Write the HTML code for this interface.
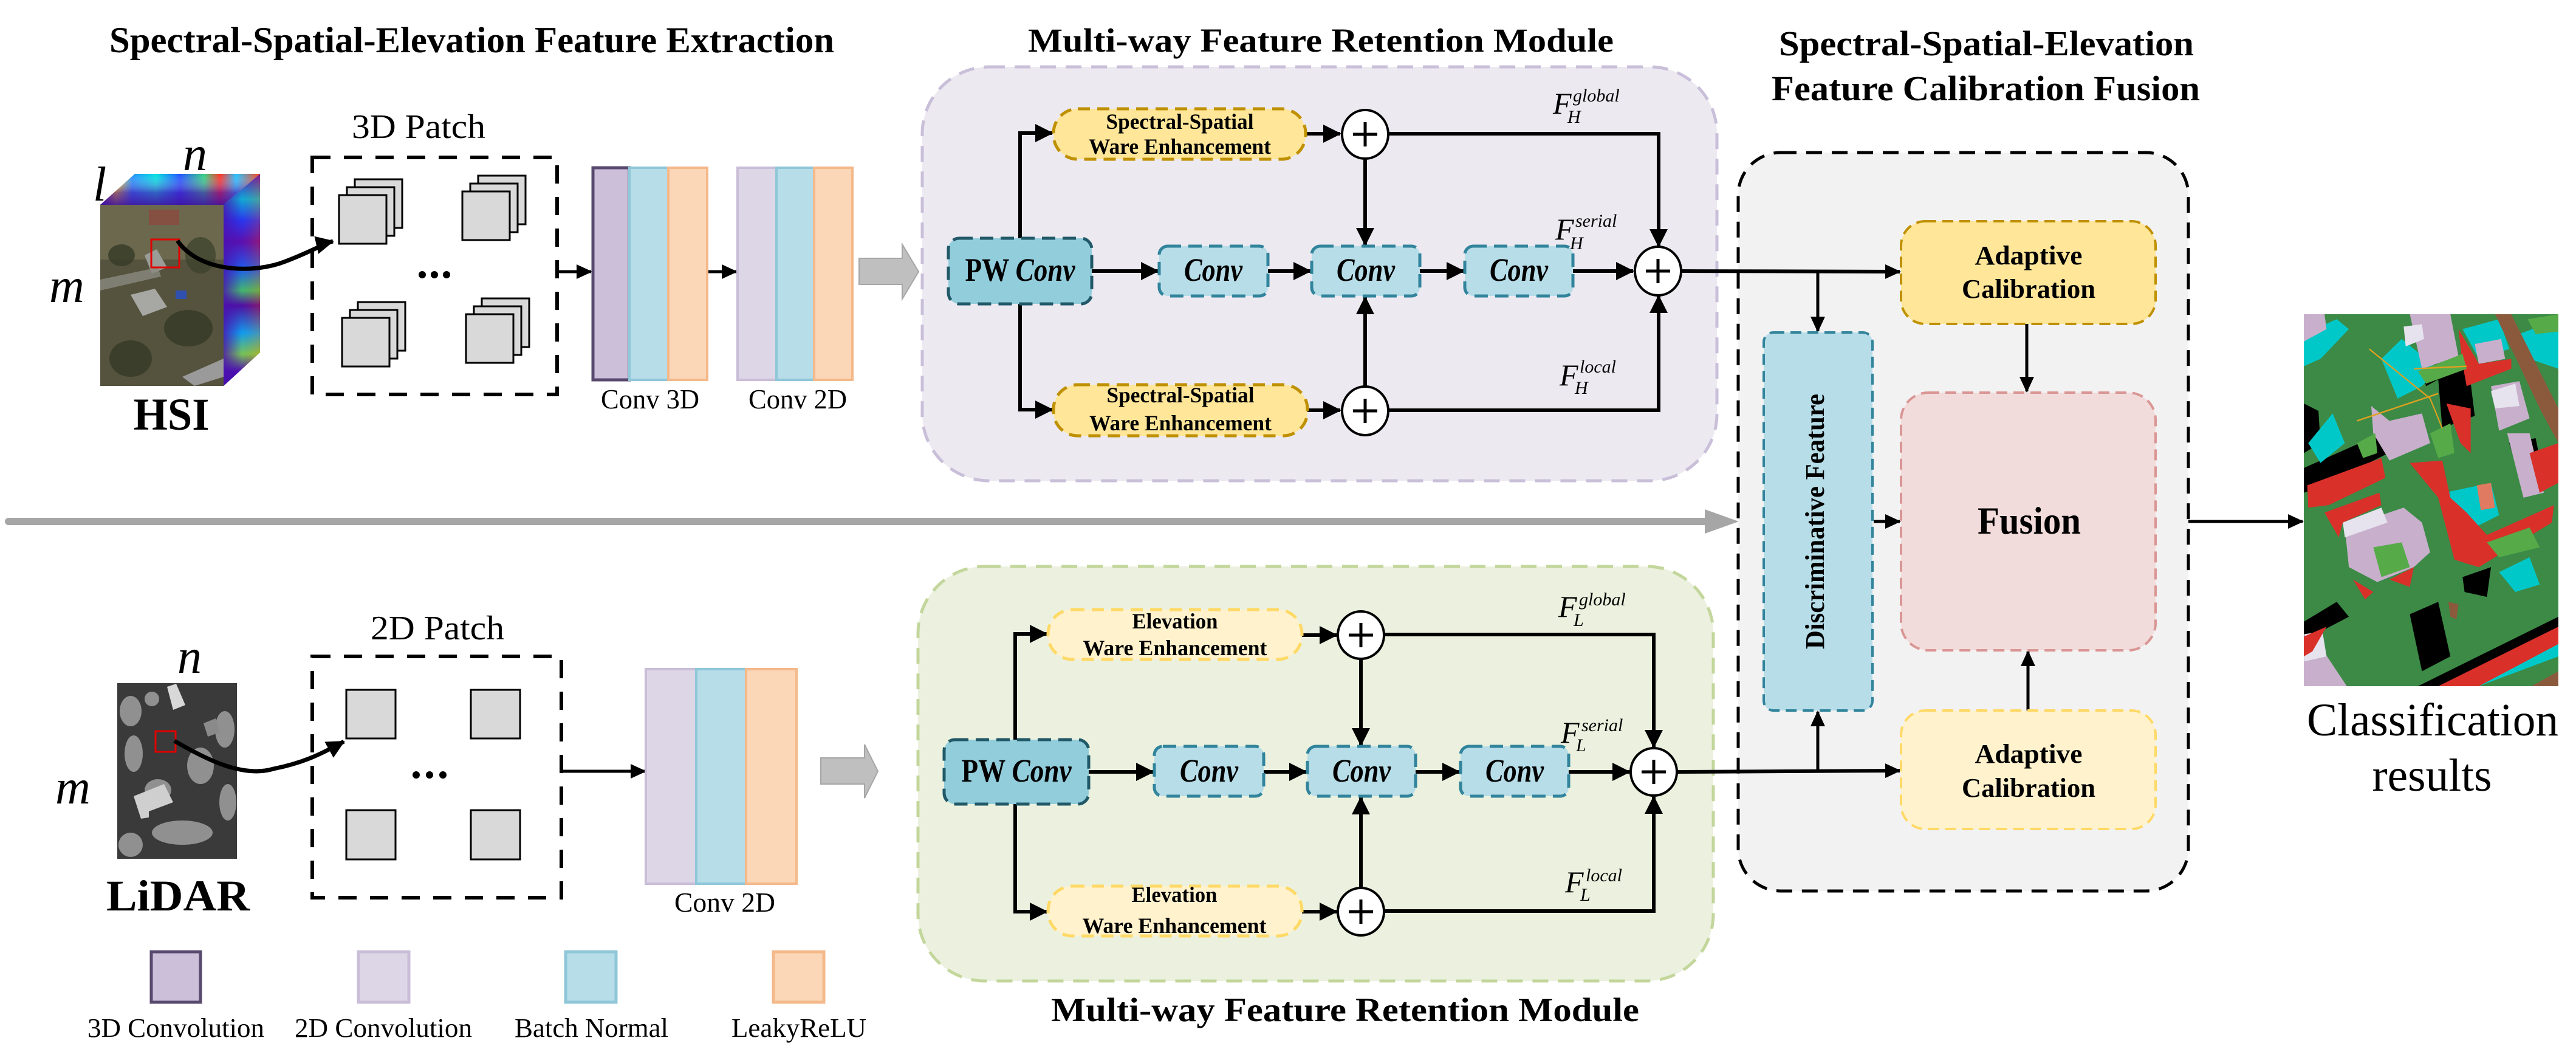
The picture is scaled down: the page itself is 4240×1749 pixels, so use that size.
<!DOCTYPE html>
<html><head><meta charset="utf-8"><style>
html,body{margin:0;padding:0;background:#fff;}
svg{display:block;}
text{font-family:"Liberation Serif",serif;}
</style></head><body>
<svg width="4240" height="1749" viewBox="0 0 4240 1749" xmlns="http://www.w3.org/2000/svg">
<defs>
<marker id="ah" markerUnits="userSpaceOnUse" markerWidth="30" markerHeight="30" refX="28" refY="15" orient="auto"><path d="M0,0 L30,15 L0,30 z" fill="#000"/></marker>
<marker id="as" markerUnits="userSpaceOnUse" markerWidth="26" markerHeight="24" refX="24" refY="12" orient="auto"><path d="M0,0 L26,12 L0,24 z" fill="#000"/></marker>
<linearGradient id="spT" x1="0" y1="0" x2="1" y2="0">
<stop offset="0" stop-color="#3a1fa0"/><stop offset="0.1" stop-color="#ffd800"/><stop offset="0.2" stop-color="#1e90ff"/><stop offset="0.35" stop-color="#00e0e0"/><stop offset="0.5" stop-color="#2050ff"/><stop offset="0.65" stop-color="#30d080"/><stop offset="0.75" stop-color="#ff3020"/><stop offset="0.85" stop-color="#20c0ff"/><stop offset="1" stop-color="#ff4010"/></linearGradient>
<linearGradient id="spTv" x1="0" y1="0" x2="0" y2="1">
<stop offset="0" stop-color="#fff" stop-opacity="0"/><stop offset="0.6" stop-color="#5010b0" stop-opacity="0.6"/><stop offset="1" stop-color="#4010a0" stop-opacity="0.9"/></linearGradient>
<linearGradient id="spR" x1="0" y1="0" x2="0" y2="1">
<stop offset="0" stop-color="#5a10c0"/><stop offset="0.12" stop-color="#00d0e0"/><stop offset="0.22" stop-color="#2040ff"/><stop offset="0.32" stop-color="#6010b0"/><stop offset="0.45" stop-color="#1070ff"/><stop offset="0.55" stop-color="#40e060"/><stop offset="0.62" stop-color="#5010a0"/><stop offset="0.75" stop-color="#00c0ff"/><stop offset="0.85" stop-color="#80f040"/><stop offset="0.93" stop-color="#5010b0"/><stop offset="1" stop-color="#3010a0"/></linearGradient>
<linearGradient id="spRh" x1="0" y1="0" x2="1" y2="0">
<stop offset="0" stop-color="#4a10b0" stop-opacity="0.85"/><stop offset="0.5" stop-color="#4a10b0" stop-opacity="0.2"/><stop offset="1" stop-color="#ff3000" stop-opacity="0.3"/></linearGradient>
</defs>

<!-- ===== Titles ===== -->
<text x="180" y="86" font-size="60" font-weight="bold" textLength="1193" lengthAdjust="spacingAndGlyphs">Spectral-Spatial-Elevation Feature Extraction</text>
<text x="1692" y="85" font-size="55" font-weight="bold" textLength="964" lengthAdjust="spacingAndGlyphs">Multi-way Feature Retention Module</text>
<text x="1730" y="1680" font-size="55" font-weight="bold" textLength="968" lengthAdjust="spacingAndGlyphs">Multi-way Feature Retention Module</text>
<text x="2928" y="91" font-size="58" font-weight="bold" textLength="683" lengthAdjust="spacingAndGlyphs">Spectral-Spatial-Elevation</text>
<text x="2916" y="165" font-size="58" font-weight="bold" textLength="705" lengthAdjust="spacingAndGlyphs">Feature Calibration Fusion</text>

<!-- ===== HSI cube ===== -->
<polygon points="165,337 222,286 428,286 368,337" fill="url(#spT)"/>
<polygon points="165,337 222,286 428,286 368,337" fill="url(#spTv)"/>
<polygon points="368,337 428,286 428,580 368,635" fill="url(#spR)"/>
<polygon points="368,337 428,286 428,580 368,635" fill="url(#spRh)"/>
<rect x="165" y="337" width="203" height="298" fill="#55533d"/>
<rect x="165" y="337" width="203" height="90" fill="#7a7658" opacity="0.6"/>
<ellipse cx="200" cy="420" rx="22" ry="18" fill="#363b28" opacity="0.8"/>
<ellipse cx="310" cy="540" rx="40" ry="30" fill="#343a26" opacity="0.8"/>
<ellipse cx="215" cy="590" rx="35" ry="30" fill="#343a26" opacity="0.8"/>
<ellipse cx="330" cy="420" rx="25" ry="30" fill="#3a4029" opacity="0.7"/>
<polygon points="215,485 255,475 275,505 235,520" fill="#a7a8a4"/>
<polygon points="238,420 258,410 275,440 250,450" fill="#9a9c98"/>
<rect x="245" y="345" width="50" height="25" fill="#8c4a40" opacity="0.8"/>
<polygon points="165,460 260,440 265,455 165,478" fill="#8a8a80" opacity="0.8"/>
<polygon points="300,620 368,590 368,620 320,635" fill="#9a9a9a"/>
<rect x="289" y="478" width="18" height="14" fill="#3050b0"/>
<rect x="249" y="394" width="46" height="46" fill="none" stroke="#e00000" stroke-width="3"/>
<path d="M292,396 C330,450 420,450 470,430 C510,415 535,400 548,397" fill="none" stroke="#000" stroke-width="7" marker-end="url(#ah)"/>
<text x="153" y="330" font-size="80" font-style="italic">l</text>
<text x="301" y="280" font-size="80" font-style="italic">n</text>
<text x="81" y="497" font-size="80" font-style="italic">m</text>
<text x="282" y="707" font-size="75" font-weight="bold" text-anchor="middle" textLength="125" lengthAdjust="spacingAndGlyphs">HSI</text>
<text x="579" y="227" font-size="56" textLength="220" lengthAdjust="spacingAndGlyphs">3D Patch</text>

<!-- 3D patch box -->
<rect x="514" y="259" width="403" height="390" fill="none" stroke="#000" stroke-width="6" stroke-dasharray="30,22"/>
<g fill="#d9d9d9" stroke="#000" stroke-width="3">
<rect x="584" y="295" width="78" height="80"/><rect x="571" y="308" width="78" height="80"/><rect x="558" y="321" width="78" height="80"/>
<rect x="787" y="289" width="78" height="80"/><rect x="774" y="302" width="78" height="80"/><rect x="761" y="315" width="78" height="80"/>
<rect x="589" y="497" width="78" height="80"/><rect x="576" y="510" width="78" height="80"/><rect x="563" y="523" width="78" height="80"/>
<rect x="793" y="491" width="78" height="80"/><rect x="780" y="504" width="78" height="80"/><rect x="767" y="517" width="78" height="80"/>
</g>
<circle cx="695" cy="452" r="6"/><circle cx="715" cy="452" r="6"/><circle cx="735" cy="452" r="6"/>
<line x1="917" y1="447" x2="973" y2="447" stroke="#000" stroke-width="5" marker-end="url(#as)"/>

<!-- Conv 3D -->
<rect x="976" y="276" width="60" height="349" fill="#cbbfd9" stroke="#584a6e" stroke-width="5"/>
<rect x="1036" y="276" width="64" height="349" fill="#b6dde8" stroke="#8fc7d8" stroke-width="4"/>
<rect x="1100" y="276" width="64" height="349" fill="#fbd6b7" stroke="#f4b98a" stroke-width="4"/>
<text x="989" y="672" font-size="46" textLength="162" lengthAdjust="spacingAndGlyphs">Conv 3D</text>
<line x1="1166" y1="447" x2="1212" y2="447" stroke="#000" stroke-width="5" marker-end="url(#as)"/>
<!-- Conv 2D top -->
<rect x="1214" y="276" width="64" height="349" fill="#ddd6e6" stroke="#c9bdd8" stroke-width="4"/>
<rect x="1278" y="276" width="62" height="349" fill="#b6dde8" stroke="#8fc7d8" stroke-width="4"/>
<rect x="1340" y="276" width="63" height="349" fill="#fbd6b7" stroke="#f4b98a" stroke-width="4"/>
<text x="1232" y="672" font-size="46" textLength="162" lengthAdjust="spacingAndGlyphs">Conv 2D</text>
<polygon points="1414,425 1485,425 1485,402 1512,447 1485,492 1485,468 1414,468" fill="#bfbfbf" stroke="#a6a6a6" stroke-width="2"/>

<!-- gray long arrow -->
<line x1="14" y1="858" x2="2812" y2="858" stroke="#a6a6a6" stroke-width="12" stroke-linecap="round"/>
<polygon points="2806,838 2862,858 2806,878" fill="#a6a6a6"/>

<!-- ===== LiDAR ===== -->
<rect x="193" y="1124" width="197" height="289" fill="#3a3a3a"/>
<g fill="#9a9a9a" opacity="0.9">
<ellipse cx="215" cy="1170" rx="18" ry="25"/><ellipse cx="220" cy="1240" rx="15" ry="30"/><ellipse cx="260" cy="1300" rx="22" ry="18"/>
<ellipse cx="330" cy="1260" rx="22" ry="30"/><ellipse cx="370" cy="1200" rx="16" ry="30"/><ellipse cx="300" cy="1370" rx="50" ry="20"/>
<ellipse cx="375" cy="1320" rx="14" ry="30"/><ellipse cx="215" cy="1390" rx="20" ry="20"/><ellipse cx="250" cy="1150" rx="12" ry="12"/>
</g>
<polygon points="275,1130 290,1125 305,1160 285,1168" fill="#d8d8d8"/>
<polygon points="220,1310 270,1290 285,1320 245,1335 245,1345 232,1347" fill="#cfcfcf"/>
<polygon points="335,1190 355,1182 362,1205 342,1212" fill="#8a8a8a"/>
<rect x="256" y="1203" width="33" height="34" fill="none" stroke="#e00000" stroke-width="3"/>
<path d="M287,1219 C340,1250 400,1280 450,1265 C500,1255 530,1240 566,1220" fill="none" stroke="#000" stroke-width="7" marker-end="url(#ah)"/>
<text x="292" y="1107" font-size="80" font-style="italic">n</text>
<text x="91" y="1322" font-size="80" font-style="italic">m</text>
<text x="175" y="1498" font-size="72" font-weight="bold" textLength="236" lengthAdjust="spacingAndGlyphs">LiDAR</text>
<text x="610" y="1052" font-size="56" textLength="220" lengthAdjust="spacingAndGlyphs">2D Patch</text>
<rect x="514" y="1080" width="410" height="397" fill="none" stroke="#000" stroke-width="6" stroke-dasharray="30,22"/>
<g fill="#d9d9d9" stroke="#000" stroke-width="3">
<rect x="570" y="1135" width="81" height="80"/><rect x="775" y="1135" width="81" height="80"/>
<rect x="570" y="1333" width="81" height="81"/><rect x="775" y="1333" width="81" height="81"/>
</g>
<circle cx="685" cy="1275" r="6"/><circle cx="707" cy="1275" r="6"/><circle cx="729" cy="1275" r="6"/>
<line x1="924" y1="1269" x2="1062" y2="1269" stroke="#000" stroke-width="5" marker-end="url(#as)"/>
<rect x="1063" y="1101" width="83" height="353" fill="#ddd6e6" stroke="#c9bdd8" stroke-width="4"/>
<rect x="1146" y="1101" width="82" height="353" fill="#b6dde8" stroke="#8fc7d8" stroke-width="4"/>
<rect x="1228" y="1101" width="83" height="353" fill="#fbd6b7" stroke="#f4b98a" stroke-width="4"/>
<text x="1110" y="1500" font-size="46" textLength="166" lengthAdjust="spacingAndGlyphs">Conv 2D</text>
<polygon points="1351,1247 1423,1247 1423,1225 1445,1269 1423,1313 1423,1290 1351,1290" fill="#bfbfbf" stroke="#a6a6a6" stroke-width="2"/>

<!-- legend -->
<rect x="249" y="1566" width="81" height="83" fill="#cbbfd9" stroke="#584a6e" stroke-width="5"/>
<rect x="590" y="1566" width="83" height="83" fill="#ddd6e6" stroke="#c9bdd8" stroke-width="5"/>
<rect x="931" y="1566" width="83" height="83" fill="#b6dde8" stroke="#8fc7d8" stroke-width="5"/>
<rect x="1273" y="1566" width="83" height="83" fill="#fbd6b7" stroke="#f4b98a" stroke-width="5"/>
<text x="144" y="1706" font-size="44" textLength="291" lengthAdjust="spacingAndGlyphs">3D Convolution</text>
<text x="485" y="1706" font-size="44" textLength="292" lengthAdjust="spacingAndGlyphs">2D Convolution</text>
<text x="847" y="1706" font-size="44" textLength="253" lengthAdjust="spacingAndGlyphs">Batch Normal</text>
<text x="1204" y="1706" font-size="44" textLength="222" lengthAdjust="spacingAndGlyphs">LeakyReLU</text>

<!-- ===== Top module (H) ===== -->
<rect x="1518" y="110" width="1308" height="681" rx="110" fill="#ece9f1" stroke="#c9bfd9" stroke-width="5" stroke-dasharray="26,16"/>
<g stroke="#000" stroke-width="6" fill="none">
<path d="M1679,392 V219 H1732" marker-end="url(#ah)"/>
<path d="M1679,500 V674 H1732" marker-end="url(#ah)"/>
<line x1="1797" y1="446" x2="1906" y2="446" marker-end="url(#ah)"/>
<line x1="2087" y1="446" x2="2157" y2="446" marker-end="url(#ah)"/>
<line x1="2337" y1="446" x2="2409" y2="446" marker-end="url(#ah)"/>
<line x1="2589" y1="446" x2="2688" y2="446" marker-end="url(#ah)"/>
<line x1="2149" y1="220" x2="2206" y2="220" marker-end="url(#ah)"/>
<line x1="2152" y1="675" x2="2206" y2="675" marker-end="url(#ah)"/>
<path d="M2286,220 H2730 V405" marker-end="url(#ah)"/>
<path d="M2286,675 H2730 V487" marker-end="url(#ah)"/>
<line x1="2247" y1="260" x2="2247" y2="403" marker-end="url(#ah)"/>
<line x1="2247" y1="637" x2="2247" y2="489" marker-end="url(#ah)"/>
</g>
<rect x="1561" y="392" width="236" height="108" rx="18" fill="#92cddc" stroke="#215968" stroke-width="5" stroke-dasharray="22,12"/>
<text x="1679" y="462" font-size="54" font-weight="bold" text-anchor="middle" textLength="181" lengthAdjust="spacingAndGlyphs">PW <tspan font-style="italic">Conv</tspan></text>
<g fill="#b6dde8" stroke="#31849b" stroke-width="5" stroke-dasharray="22,12">
<rect x="1908" y="405" width="179" height="82" rx="14"/><rect x="2159" y="405" width="178" height="82" rx="14"/><rect x="2411" y="405" width="178" height="82" rx="14"/>
</g>
<g font-size="54" font-weight="bold" font-style="italic" text-anchor="middle">
<text x="1997" y="462" textLength="96" lengthAdjust="spacingAndGlyphs">Conv</text>
<text x="2248" y="462" textLength="96" lengthAdjust="spacingAndGlyphs">Conv</text>
<text x="2500" y="462" textLength="96" lengthAdjust="spacingAndGlyphs">Conv</text>
</g>
<rect x="1734" y="179" width="415" height="83" rx="40" fill="#ffe699" stroke="#bf9000" stroke-width="5" stroke-dasharray="20,12"/>
<rect x="1734" y="633" width="418" height="84" rx="40" fill="#ffe699" stroke="#bf9000" stroke-width="5" stroke-dasharray="20,12"/>
<g font-size="36" font-weight="bold" text-anchor="middle">
<text x="1942" y="212" textLength="243" lengthAdjust="spacingAndGlyphs">Spectral-Spatial</text>
<text x="1942" y="253" textLength="300" lengthAdjust="spacingAndGlyphs">Ware Enhancement</text>
<text x="1943" y="662" textLength="243" lengthAdjust="spacingAndGlyphs">Spectral-Spatial</text>
<text x="1943" y="708" textLength="300" lengthAdjust="spacingAndGlyphs">Ware Enhancement</text>
</g>
<g fill="#fff" stroke="#000" stroke-width="4">
<ellipse cx="2247" cy="221" rx="38" ry="40"/><ellipse cx="2247" cy="676" rx="38" ry="40"/><ellipse cx="2729" cy="446" rx="38" ry="40"/>
</g>
<g stroke="#000" stroke-width="5">
<path d="M2227,221 H2267 M2247,201 V241"/><path d="M2227,676 H2267 M2247,656 V696"/><path d="M2709,446 H2749 M2729,426 V466"/>
</g>
<g font-style="italic">
<text x="2556" y="187" font-size="50">F</text><text x="2589" y="167" font-size="30">global</text><text x="2580" y="202" font-size="30">H</text>
<text x="2560" y="394" font-size="50">F</text><text x="2593" y="373" font-size="30">serial</text><text x="2584" y="410" font-size="30">H</text>
<text x="2567" y="634" font-size="50">F</text><text x="2600" y="613" font-size="30">local</text><text x="2592" y="648" font-size="30">H</text>
</g>

<!-- ===== Bottom module (L) ===== -->
<rect x="1511" y="932" width="1309" height="682" rx="110" fill="#ebf1de" stroke="#c3d69b" stroke-width="5" stroke-dasharray="26,16"/>
<g stroke="#000" stroke-width="6" fill="none">
<path d="M1671,1217 V1043 H1723" marker-end="url(#ah)"/>
<path d="M1671,1323 V1500 H1723" marker-end="url(#ah)"/>
<line x1="1792" y1="1270" x2="1898" y2="1270" marker-end="url(#ah)"/>
<line x1="2080" y1="1270" x2="2150" y2="1270" marker-end="url(#ah)"/>
<line x1="2330" y1="1270" x2="2402" y2="1270" marker-end="url(#ah)"/>
<line x1="2582" y1="1270" x2="2682" y2="1270" marker-end="url(#ah)"/>
<line x1="2143" y1="1045" x2="2200" y2="1045" marker-end="url(#ah)"/>
<line x1="2143" y1="1500" x2="2200" y2="1500" marker-end="url(#ah)"/>
<path d="M2278,1044 H2722 V1229" marker-end="url(#ah)"/>
<path d="M2278,1499 H2722 V1311" marker-end="url(#ah)"/>
<line x1="2240" y1="1084" x2="2240" y2="1226" marker-end="url(#ah)"/>
<line x1="2240" y1="1461" x2="2240" y2="1312" marker-end="url(#ah)"/>
</g>
<rect x="1554" y="1217" width="238" height="106" rx="18" fill="#92cddc" stroke="#215968" stroke-width="5" stroke-dasharray="22,12"/>
<text x="1673" y="1286" font-size="54" font-weight="bold" text-anchor="middle" textLength="181" lengthAdjust="spacingAndGlyphs">PW <tspan font-style="italic">Conv</tspan></text>
<g fill="#b6dde8" stroke="#31849b" stroke-width="5" stroke-dasharray="22,12">
<rect x="1900" y="1228" width="180" height="82" rx="14"/><rect x="2152" y="1228" width="178" height="82" rx="14"/><rect x="2404" y="1228" width="178" height="82" rx="14"/>
</g>
<g font-size="54" font-weight="bold" font-style="italic" text-anchor="middle">
<text x="1990" y="1286" textLength="96" lengthAdjust="spacingAndGlyphs">Conv</text>
<text x="2241" y="1286" textLength="96" lengthAdjust="spacingAndGlyphs">Conv</text>
<text x="2493" y="1286" textLength="96" lengthAdjust="spacingAndGlyphs">Conv</text>
</g>
<rect x="1725" y="1003" width="418" height="82" rx="40" fill="#fff2cc" stroke="#ffd966" stroke-width="5" stroke-dasharray="20,12"/>
<rect x="1725" y="1458" width="418" height="82" rx="40" fill="#fff2cc" stroke="#ffd966" stroke-width="5" stroke-dasharray="20,12"/>
<g font-size="36" font-weight="bold" text-anchor="middle">
<text x="1934" y="1034" textLength="141" lengthAdjust="spacingAndGlyphs">Elevation</text>
<text x="1934" y="1078" textLength="303" lengthAdjust="spacingAndGlyphs">Ware Enhancement</text>
<text x="1933" y="1484" textLength="141" lengthAdjust="spacingAndGlyphs">Elevation</text>
<text x="1933" y="1535" textLength="303" lengthAdjust="spacingAndGlyphs">Ware Enhancement</text>
</g>
<g fill="#fff" stroke="#000" stroke-width="4">
<ellipse cx="2240" cy="1045" rx="38" ry="39"/><ellipse cx="2240" cy="1500" rx="38" ry="39"/><ellipse cx="2722" cy="1270" rx="38" ry="39"/>
</g>
<g stroke="#000" stroke-width="5">
<path d="M2220,1045 H2260 M2240,1025 V1065"/><path d="M2220,1500 H2260 M2240,1480 V1520"/><path d="M2702,1270 H2742 M2722,1250 V1290"/>
</g>
<g font-style="italic">
<text x="2565" y="1015" font-size="50">F</text><text x="2599" y="996" font-size="30">global</text><text x="2590" y="1030" font-size="30">L</text>
<text x="2569" y="1222" font-size="50">F</text><text x="2603" y="1203" font-size="30">serial</text><text x="2594" y="1236" font-size="30">L</text>
<text x="2576" y="1468" font-size="50">F</text><text x="2610" y="1450" font-size="30">local</text><text x="2601" y="1482" font-size="30">L</text>
</g>

<!-- ===== Fusion panel ===== -->
<rect x="2861" y="251" width="741" height="1215" rx="70" fill="#f2f2f2" stroke="#000" stroke-width="5" stroke-dasharray="26,16"/>
<g stroke="#000" stroke-width="6" fill="none">
<line x1="2768" y1="446" x2="3127" y2="447" marker-end="url(#as)"/>
<line x1="2761" y1="1270" x2="3127" y2="1268" marker-end="url(#as)"/>
</g>
<g stroke="#000" stroke-width="5" fill="none">
<line x1="2992" y1="447" x2="2992" y2="545" marker-end="url(#as)"/>
<line x1="2992" y1="1268" x2="2992" y2="1171" marker-end="url(#as)"/>
<line x1="3084" y1="858" x2="3127" y2="858" marker-end="url(#as)"/>
<line x1="3336" y1="533" x2="3336" y2="644" marker-end="url(#as)"/>
<line x1="3338" y1="1169" x2="3338" y2="1072" marker-end="url(#as)"/>
<line x1="3602" y1="858" x2="3790" y2="858" marker-end="url(#as)"/>
</g>
<rect x="2903" y="547" width="179" height="622" rx="16" fill="#b6dde8" stroke="#31849b" stroke-width="4" stroke-dasharray="18,10"/>
<text x="0" y="0" font-size="44" font-weight="bold" text-anchor="middle" transform="translate(3002,858) rotate(-90)" textLength="420" lengthAdjust="spacingAndGlyphs">Discriminative Feature</text>
<rect x="3129" y="364" width="419" height="169" rx="40" fill="#ffe699" stroke="#bf9000" stroke-width="4" stroke-dasharray="18,10"/>
<text x="3339" y="435" font-size="44" font-weight="bold" text-anchor="middle" textLength="177" lengthAdjust="spacingAndGlyphs">Adaptive</text>
<text x="3339" y="490" font-size="44" font-weight="bold" text-anchor="middle" textLength="220" lengthAdjust="spacingAndGlyphs">Calibration</text>
<rect x="3129" y="646" width="419" height="424" rx="45" fill="#f2dcdb" stroke="#d99694" stroke-width="4" stroke-dasharray="18,10"/>
<text x="3340" y="878" font-size="64" font-weight="bold" text-anchor="middle" textLength="170" lengthAdjust="spacingAndGlyphs">Fusion</text>
<rect x="3129" y="1169" width="419" height="195" rx="40" fill="#fff2cc" stroke="#ffd966" stroke-width="4" stroke-dasharray="18,10"/>
<text x="3339" y="1255" font-size="44" font-weight="bold" text-anchor="middle" textLength="177" lengthAdjust="spacingAndGlyphs">Adaptive</text>
<text x="3339" y="1311" font-size="44" font-weight="bold" text-anchor="middle" textLength="220" lengthAdjust="spacingAndGlyphs">Calibration</text>

<!-- ===== Classification map ===== -->
<svg x="3792" y="517" width="419" height="612" viewBox="38 40 1254 1500" preserveAspectRatio="none">
<rect x="38" y="40" width="1254" height="1500" fill="#3c8a46"/>
<g fill="#000">
<polygon points="38,660 560,470 600,540 140,730 38,760"/>
<polygon points="38,1280 200,1200 260,1260 120,1320 38,1340"/>
<polygon points="560,1250 700,1200 760,1420 620,1480"/>
<polygon points="600,1540 1292,1260 1292,1320 760,1540"/>
<polygon points="560,40 720,40 820,250 640,330"/>
<polygon points="700,300 850,250 880,450 720,500"/>
<polygon points="1050,560 1180,540 1200,620 1080,640"/>
<polygon points="38,400 110,430 120,560 38,600"/>
<polygon points="320,980 420,960 400,1080 330,1060"/>
<polygon points="820,1100 960,1060 940,1180 830,1160"/>
</g>
<g fill="#00c8c8">
<polygon points="38,120 200,60 260,100 120,220 38,250"/>
<polygon points="420,220 520,140 700,260 620,330 500,380"/>
<polygon points="820,100 1000,60 1050,180 900,220"/>
<polygon points="60,560 180,440 240,560 120,640"/>
<polygon points="730,760 960,720 1000,850 880,900 780,820"/>
<polygon points="1000,1080 1150,1020 1200,1130 1080,1160"/>
<polygon points="700,1540 1292,1330 1292,1420 900,1540"/>
<polygon points="1100,120 1292,60 1292,260 1150,220"/>
</g>
<g fill="#c8afcc">
<polygon points="560,40 760,40 800,210 620,260"/>
<polygon points="370,410 460,470 620,440 660,560 460,630 380,520"/>
<polygon points="240,900 530,820 620,880 660,1000 580,1060 400,1120 260,1060"/>
<polygon points="960,330 1100,310 1150,460 1000,510"/>
<polygon points="1040,520 1150,520 1220,760 1120,780"/>
<polygon points="38,1420 120,1380 250,1540 38,1540"/>
<polygon points="38,40 140,40 150,100 38,150"/>
<polygon points="880,160 1010,140 1030,220 900,240"/>
</g>
<g fill="#e6e3ef">
<polygon points="530,90 620,80 630,140 540,170"/>
<polygon points="230,880 420,820 450,880 240,940"/>
<polygon points="960,350 1080,320 1100,410 980,420"/>
<polygon points="40,1330 130,1320 150,1420 40,1440"/>
</g>
<g fill="#d9302a">
<polygon points="800,100 900,240 1060,220 1060,260 840,330 820,240"/>
<polygon points="55,730 420,620 440,700 160,810 60,820"/>
<polygon points="140,840 410,760 420,810 230,880 210,940"/>
<polygon points="560,640 720,630 760,780 840,840 940,930 1270,810 1260,880 900,1060 780,1030 700,780"/>
<polygon points="740,400 860,420 860,600 810,560"/>
<polygon points="1150,600 1292,560 1292,720 1200,760"/>
<polygon points="700,1540 1292,1300 1292,1370 900,1540"/>
<polygon points="280,1110 380,1160 340,1190"/>
<polygon points="460,1110 580,1060 560,1140"/>
<polygon points="38,1340 150,1300 80,1400 38,1420"/>
</g>
<g fill="#56ab48">
<polygon points="600,270 820,200 840,260 640,320"/>
<polygon points="660,520 760,480 780,600 700,620"/>
<polygon points="300,560 390,520 400,600 330,620"/>
<polygon points="940,960 1150,900 1200,980 1000,1020"/>
<polygon points="380,980 520,960 560,1060 420,1100"/>
<polygon points="1140,60 1292,40 1292,110 1180,120"/>
</g>
<g fill="#8b5a3c">
<polygon points="980,40 1060,40 1292,420 1292,560 1200,420"/>
<polygon points="1160,1540 1292,1480 1292,1540"/>
<polygon points="750,1200 800,1210 790,1270 760,1260"/>
</g>
<g fill="#e07a60"><polygon points="890,730 960,720 980,820 910,830"/></g>
<g stroke="#e0a020" stroke-width="6" fill="none">
<path d="M360,180 L660,380 L720,500"/><path d="M580,260 L840,250"/><path d="M300,470 L700,360"/>
</g>
</svg>
<text x="4004" y="1210" font-size="76" text-anchor="middle" textLength="414" lengthAdjust="spacingAndGlyphs">Classification</text>
<text x="4003" y="1301" font-size="76" text-anchor="middle" textLength="197" lengthAdjust="spacingAndGlyphs">results</text>
</svg>
</body></html>
